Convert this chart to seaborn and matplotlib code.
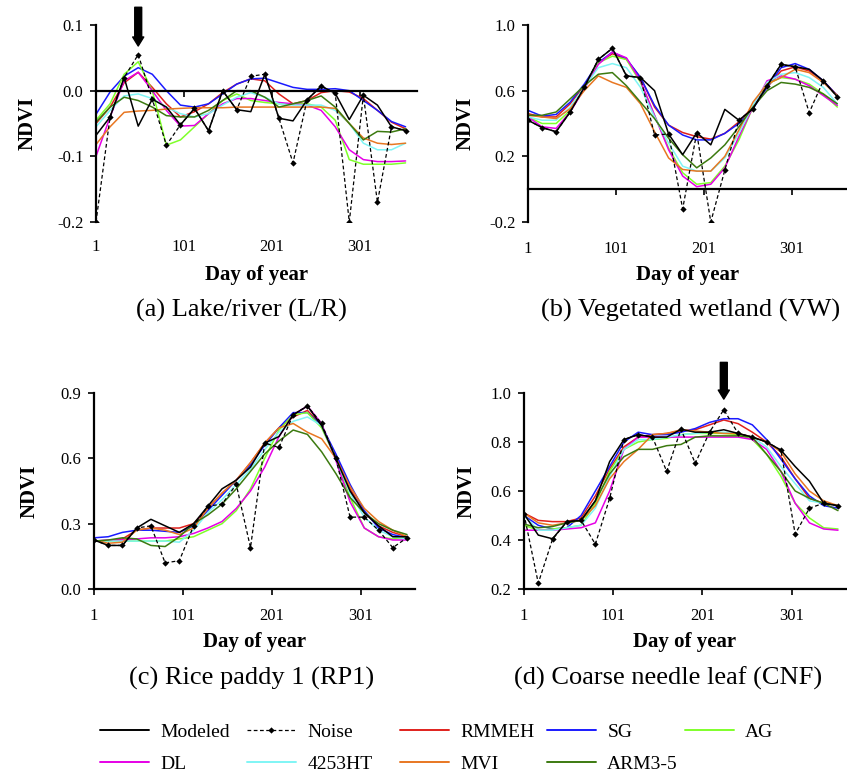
import matplotlib
matplotlib.use("Agg")
import matplotlib.pyplot as plt
import seaborn as sns
from matplotlib.lines import Line2D

sns.set_style("ticks")
plt.rcParams["font.family"] = ["Liberation Serif", "DejaVu Serif"]
plt.rcParams["axes.unicode_minus"] = False
plt.rcParams["text.color"] = "black"
plt.rcParams["axes.labelcolor"] = "black"
plt.rcParams["xtick.color"] = "black"
plt.rcParams["ytick.color"] = "black"

# ---------------- data ----------------
DAYS = [1, 17, 33, 49, 65, 81, 97, 113, 129, 145, 161, 177, 193, 209, 225,
        241, 257, 273, 289, 305, 321, 337, 353]
SERIES = ["Modeled", "Noise", "RMMEH", "SG", "AG", "DL", "4253HT", "MVI", "ARM3-5"]
X_TICKS = [1, 101, 201, 301]

# (a) Lake/river
a_modeled = [-0.068, -0.040, 0.020, -0.054, -0.013, -0.025, -0.052, -0.027, -0.061, 0.000, -0.029, -0.032,
             0.025, -0.042, -0.046, -0.014, 0.007, -0.004, -0.044, -0.007, -0.022, -0.055, -0.061]
a_noise = [-0.200, -0.040, 0.020, 0.055, -0.013, -0.083, -0.052, -0.027, -0.061, 0.000, -0.029, 0.022,
           0.025, -0.042, -0.110, -0.014, 0.007, -0.004, -0.200, -0.007, -0.170, -0.055, -0.061]
a_rmmeh = [-0.050, -0.025, 0.012, 0.028, 0.005, -0.020, -0.040, -0.032, -0.020, -0.003, 0.010, 0.018,
           0.015, -0.005, -0.020, -0.015, -0.003, 0.000, -0.002, -0.012, -0.030, -0.048, -0.058]
a_sg = [-0.036, -0.002, 0.022, 0.035, 0.025, 0.000, -0.022, -0.025, -0.020, -0.005, 0.010, 0.018,
        0.019, 0.012, 0.005, 0.002, 0.002, 0.003, 0.000, -0.015, -0.030, -0.047, -0.055]
a_ag = [-0.045, -0.020, 0.025, 0.044, 0.000, -0.083, -0.075, -0.055, -0.035, -0.015, -0.005, -0.015,
        -0.018, -0.020, -0.020, -0.020, -0.025, -0.045, -0.105, -0.112, -0.112, -0.112, -0.110]
a_dl = [-0.100, -0.040, 0.015, 0.028, 0.000, -0.030, -0.054, -0.053, -0.035, -0.020, -0.012, -0.012,
        -0.015, -0.018, -0.020, -0.022, -0.030, -0.055, -0.090, -0.105, -0.108, -0.108, -0.107]
a_ht = [-0.055, -0.030, -0.008, -0.005, -0.012, -0.025, -0.035, -0.040, -0.035, -0.022, -0.010, -0.003,
        -0.010, -0.020, -0.022, -0.022, -0.022, -0.030, -0.050, -0.080, -0.090, -0.090, -0.080]
a_mvi = [-0.082, -0.055, -0.033, -0.031, -0.030, -0.028, -0.027, -0.026, -0.026, -0.026, -0.025, -0.025,
         -0.025, -0.025, -0.025, -0.025, -0.025, -0.027, -0.050, -0.072, -0.080, -0.082, -0.080]
a_arm = [-0.048, -0.025, -0.010, -0.015, -0.025, -0.038, -0.040, -0.040, -0.030, -0.015, 0.000, 0.000,
         -0.010, -0.025, -0.020, -0.015, -0.008, -0.025, -0.050, -0.075, -0.062, -0.063, -0.058]

# (b) Vegetated wetland
b_modeled = [0.42, 0.375, 0.35, 0.47, 0.62, 0.79, 0.858, 0.69, 0.68, 0.60, 0.336, 0.21,
             0.344, 0.27, 0.486, 0.42, 0.49, 0.63, 0.76, 0.746, 0.73, 0.66, 0.563]
b_noise = [0.42, 0.375, 0.35, 0.47, 0.62, 0.79, 0.858, 0.69, 0.68, 0.33, 0.336, -0.12,
           0.344, -0.20, 0.117, 0.42, 0.49, 0.63, 0.76, 0.746, 0.466, 0.66, 0.563]
b_rmmeh = [0.46, 0.44, 0.44, 0.52, 0.63, 0.77, 0.825, 0.79, 0.68, 0.50, 0.39, 0.345,
           0.32, 0.305, 0.34, 0.41, 0.50, 0.62, 0.72, 0.745, 0.72, 0.66, 0.57]
b_sg = [0.48, 0.445, 0.455, 0.53, 0.64, 0.77, 0.835, 0.795, 0.68, 0.51, 0.39, 0.33,
        0.30, 0.30, 0.34, 0.40, 0.49, 0.62, 0.74, 0.765, 0.73, 0.66, 0.57]
b_ag = [0.44, 0.40, 0.40, 0.48, 0.62, 0.77, 0.81, 0.79, 0.65, 0.45, 0.25, 0.10,
        0.03, 0.04, 0.14, 0.30, 0.50, 0.64, 0.68, 0.67, 0.64, 0.58, 0.50]
b_dl = [0.44, 0.38, 0.37, 0.47, 0.61, 0.76, 0.835, 0.80, 0.66, 0.45, 0.24, 0.08,
        0.015, 0.03, 0.13, 0.32, 0.50, 0.66, 0.69, 0.67, 0.63, 0.57, 0.51]
b_ht = [0.44, 0.42, 0.42, 0.50, 0.62, 0.74, 0.765, 0.74, 0.62, 0.44, 0.28, 0.14,
        0.11, 0.11, 0.19, 0.34, 0.51, 0.65, 0.70, 0.71, 0.68, 0.62, 0.52]
b_mvi = [0.45, 0.44, 0.43, 0.49, 0.60, 0.69, 0.65, 0.62, 0.52, 0.35, 0.19, 0.12,
         0.11, 0.11, 0.20, 0.36, 0.53, 0.64, 0.68, 0.73, 0.71, 0.65, 0.57]
b_arm = [0.45, 0.45, 0.47, 0.55, 0.63, 0.70, 0.71, 0.63, 0.53, 0.43, 0.31, 0.21,
         0.13, 0.19, 0.27, 0.38, 0.50, 0.60, 0.65, 0.64, 0.62, 0.58, 0.52]

# (c) Rice paddy 1
c_modeled = [0.225, 0.20, 0.20, 0.28, 0.32, 0.29, 0.26, 0.30, 0.38, 0.46, 0.50, 0.56,
             0.67, 0.70, 0.80, 0.84, 0.75, 0.60, 0.45, 0.35, 0.29, 0.24, 0.24]
c_noise = [0.225, 0.20, 0.20, 0.28, 0.29, 0.12, 0.13, 0.29, 0.38, 0.39, 0.48, 0.19,
           0.67, 0.65, 0.80, 0.84, 0.76, 0.60, 0.33, 0.33, 0.27, 0.19, 0.235]
c_rmmeh = [0.22, 0.22, 0.23, 0.27, 0.28, 0.28, 0.28, 0.30, 0.37, 0.44, 0.50, 0.58,
           0.67, 0.74, 0.79, 0.82, 0.75, 0.61, 0.46, 0.35, 0.29, 0.26, 0.24]
c_sg = [0.235, 0.24, 0.26, 0.27, 0.27, 0.265, 0.26, 0.29, 0.36, 0.43, 0.50, 0.57,
        0.66, 0.74, 0.81, 0.81, 0.75, 0.62, 0.48, 0.36, 0.28, 0.25, 0.235]
c_ag = [0.22, 0.22, 0.22, 0.22, 0.22, 0.22, 0.23, 0.24, 0.27, 0.30, 0.36, 0.46,
        0.60, 0.73, 0.80, 0.81, 0.74, 0.60, 0.42, 0.28, 0.24, 0.23, 0.235]
c_dl = [0.22, 0.225, 0.225, 0.23, 0.235, 0.235, 0.24, 0.255, 0.28, 0.31, 0.37, 0.45,
        0.56, 0.70, 0.80, 0.84, 0.76, 0.59, 0.40, 0.28, 0.24, 0.225, 0.225]
c_ht = [0.22, 0.22, 0.22, 0.22, 0.22, 0.22, 0.215, 0.27, 0.35, 0.41, 0.48, 0.55,
        0.64, 0.72, 0.77, 0.79, 0.75, 0.60, 0.44, 0.33, 0.27, 0.24, 0.23]
c_mvi = [0.225, 0.21, 0.215, 0.27, 0.28, 0.27, 0.25, 0.28, 0.37, 0.44, 0.50, 0.58,
         0.67, 0.74, 0.76, 0.72, 0.69, 0.60, 0.47, 0.37, 0.31, 0.27, 0.24]
c_arm = [0.22, 0.225, 0.235, 0.23, 0.20, 0.195, 0.24, 0.30, 0.34, 0.39, 0.46, 0.54,
         0.62, 0.68, 0.73, 0.71, 0.63, 0.53, 0.42, 0.35, 0.30, 0.27, 0.25]

# (d) Coarse needle leaf
d_modeled = [0.506, 0.42, 0.405, 0.475, 0.48, 0.56, 0.72, 0.81, 0.83, 0.82, 0.82, 0.852,
             0.84, 0.84, 0.85, 0.835, 0.82, 0.80, 0.767, 0.70, 0.64, 0.55, 0.54]
d_noise = [0.506, 0.224, 0.403, 0.475, 0.48, 0.383, 0.57, 0.81, 0.83, 0.82, 0.68, 0.852,
           0.713, 0.84, 0.932, 0.835, 0.82, 0.80, 0.767, 0.424, 0.53, 0.55, 0.54]
d_rmmeh = [0.51, 0.48, 0.475, 0.475, 0.49, 0.58, 0.69, 0.78, 0.82, 0.83, 0.835, 0.845,
           0.85, 0.87, 0.89, 0.875, 0.84, 0.80, 0.74, 0.65, 0.57, 0.55, 0.54]
d_sg = [0.50, 0.46, 0.445, 0.45, 0.50, 0.60, 0.70, 0.80, 0.84, 0.83, 0.83, 0.84,
        0.855, 0.88, 0.895, 0.895, 0.87, 0.81, 0.73, 0.65, 0.58, 0.54, 0.53]
d_ag = [0.46, 0.44, 0.445, 0.45, 0.46, 0.55, 0.68, 0.77, 0.80, 0.81, 0.815, 0.83,
        0.835, 0.835, 0.835, 0.83, 0.81, 0.75, 0.66, 0.55, 0.49, 0.45, 0.445]
d_dl = [0.44, 0.44, 0.44, 0.445, 0.45, 0.47, 0.60, 0.77, 0.82, 0.82, 0.82, 0.82,
        0.82, 0.82, 0.82, 0.82, 0.81, 0.77, 0.68, 0.55, 0.47, 0.445, 0.44]
d_ht = [0.50, 0.44, 0.44, 0.45, 0.46, 0.53, 0.66, 0.77, 0.81, 0.81, 0.82, 0.83,
        0.835, 0.84, 0.84, 0.835, 0.82, 0.78, 0.70, 0.63, 0.56, 0.55, 0.54]
d_mvi = [0.51, 0.47, 0.46, 0.47, 0.48, 0.54, 0.65, 0.72, 0.77, 0.83, 0.835, 0.85,
         0.845, 0.84, 0.835, 0.835, 0.82, 0.80, 0.76, 0.67, 0.60, 0.56, 0.54]
d_arm = [0.465, 0.45, 0.455, 0.47, 0.48, 0.56, 0.67, 0.74, 0.77, 0.77, 0.785, 0.79,
         0.82, 0.825, 0.825, 0.825, 0.82, 0.75, 0.68, 0.60, 0.57, 0.55, 0.52]

CAPTIONS = ["(a) Lake/river (L/R)", "(b) Vegetated wetland (VW)",
            "(c) Rice paddy 1 (RP1)", "(d) Coarse needle leaf (CNF)"]
Y_TICKS = [[-0.2, -0.1, 0.0, 0.1], [-0.2, 0.2, 0.6, 1.0],
           [0.0, 0.3, 0.6, 0.9], [0.2, 0.4, 0.6, 0.8, 1.0]]

PANEL_DATA = [
    [a_modeled, a_noise, a_rmmeh, a_sg, a_ag, a_dl, a_ht, a_mvi, a_arm],
    [b_modeled, b_noise, b_rmmeh, b_sg, b_ag, b_dl, b_ht, b_mvi, b_arm],
    [c_modeled, c_noise, c_rmmeh, c_sg, c_ag, c_dl, c_ht, c_mvi, c_arm],
    [d_modeled, d_noise, d_rmmeh, d_sg, d_ag, d_dl, d_ht, d_mvi, d_arm],
]
ARROW_DAY = {0: 49, 3: 225}

# legend layout: columns of series (row-major as in the reference)
LEGEND_COLUMNS = [["Modeled", "DL"], ["Noise", "4253HT"], ["RMMEH", "MVI"],
                  ["SG", "ARM3-5"], ["AG"]]

# ---------------- style ----------------
COLORS = {"Modeled": "#000000", "Noise": "#000000", "RMMEH": "#e0201c", "SG": "#1a1aff",
          "AG": "#7fff2a", "DL": "#e600e6", "4253HT": "#7ff5f5", "MVI": "#e87722",
          "ARM3-5": "#3c7a10"}
W, H = 847, 776


def rect(l, r, t, b):
    return [l / W, 1 - b / H, (r - l) / W, (b - t) / H]


LAYOUT = [
    dict(rect=rect(96, 417, 25, 222), xlim=(1, 366), ylim=(-0.2, 0.1), zero=True, pad=103,
         ylx=-0.212, cap=(241, 310), arrow=(0.068, 0.127)),
    dict(rect=rect(528, 847, 25, 222), xlim=(1, 364), ylim=(-0.2, 1.0), zero=True, pad=33,
         ylx=-0.197, cap=(691, 310), arrow=None),
    dict(rect=rect(94, 415, 393, 589), xlim=(1, 362), ylim=(0.0, 0.9), zero=False, pad=9.5,
         ylx=-0.199, cap=(252, 678), arrow=None),
    dict(rect=rect(524, 846, 393, 589), xlim=(1, 362), ylim=(0.2, 1.0), zero=False, pad=9.5,
         ylx=-0.177, cap=(668, 678), arrow=(0.975, 1.125)),
]
LEGEND_X = [100, 247, 400, 547, 685]
LEGEND_TOP = 723

fig = plt.figure(figsize=(W / 100, H / 100), dpi=100)

for k, (vals_list, lay) in enumerate(zip(PANEL_DATA, LAYOUT)):
    ax = fig.add_axes(lay["rect"])
    for name, vals in zip(SERIES, vals_list):
        if name == "Noise":
            sns.lineplot(x=DAYS, y=vals, ax=ax, color=COLORS[name], lw=0.9, linestyle=(0, (3, 2)),
                         marker="D", markersize=3.2, markeredgewidth=0, zorder=3)
        else:
            sns.lineplot(x=DAYS, y=vals, ax=ax, color=COLORS[name], lw=1.1,
                         zorder=4 if name == "Modeled" else 2)
    ax.set_xlim(*lay["xlim"])
    ax.set_ylim(*lay["ylim"])
    ax.set_xticks(X_TICKS)
    ax.set_xticklabels([str(t) for t in X_TICKS])
    ax.set_yticks(Y_TICKS[k])
    ax.set_yticklabels([f"{t:.1f}" for t in Y_TICKS[k]])
    for s in ["top", "right"]:
        ax.spines[s].set_visible(False)
    for s in ["left", "bottom"]:
        ax.spines[s].set_linewidth(1.6)
        ax.spines[s].set_color("black")
    if lay["zero"]:
        ax.spines["bottom"].set_position(("data", 0))
    ax.tick_params(axis="x", direction="out", length=4, width=1.2, pad=lay["pad"],
                   labelsize=12, colors="black")
    ax.tick_params(axis="y", direction="out", length=4, width=1.2, pad=5,
                   labelsize=12, colors="black")
    ax.set_xlabel("Day of year", fontsize=15, fontweight="bold", color="black")
    ax.xaxis.label.set_va("center")
    ax.xaxis.set_label_coords(0.5, -0.27)
    ax.set_ylabel("NDVI", fontsize=15, fontweight="bold", color="black")
    ax.yaxis.label.set_va("center")
    ax.yaxis.set_label_coords(lay["ylx"], 0.5)
    ax.grid(False)
    ax.set_facecolor("none")
    cx, cy = lay["cap"]
    fig.text(cx / W, 1 - cy / H, CAPTIONS[k], ha="center", va="center", fontsize=19,
             color="black")
    if lay["arrow"] is not None:
        tip, top = lay["arrow"]
        xd = ARROW_DAY[k]
        ax.annotate("", xy=(xd, tip), xytext=(xd, top), annotation_clip=False,
                    arrowprops=dict(arrowstyle="simple,head_width=0.8,head_length=0.65,tail_width=0.5",
                                    color="black", shrinkA=0, shrinkB=0, mutation_scale=10))

# legend: one small legend per column, placed like the reference's grid
handles = {}
for name in SERIES:
    if name == "Noise":
        handles[name] = Line2D([], [], color="black", lw=0.9, linestyle=(0, (3, 2)),
                               marker="D", markersize=3.2, markeredgewidth=0, markevery=[1])
    else:
        handles[name] = Line2D([], [], color=COLORS[name], lw=1.4)
for col, x in zip(LEGEND_COLUMNS, LEGEND_X):
    fig.legend([handles[n] for n in col], col, loc="upper left",
               bbox_to_anchor=(x / W, 1 - LEGEND_TOP / H), frameon=False, fontsize=14,
               handlelength=2.5, handletextpad=0.6, labelspacing=0.75,
               borderpad=0, borderaxespad=0)

fig.savefig("out.png", dpi=100)
